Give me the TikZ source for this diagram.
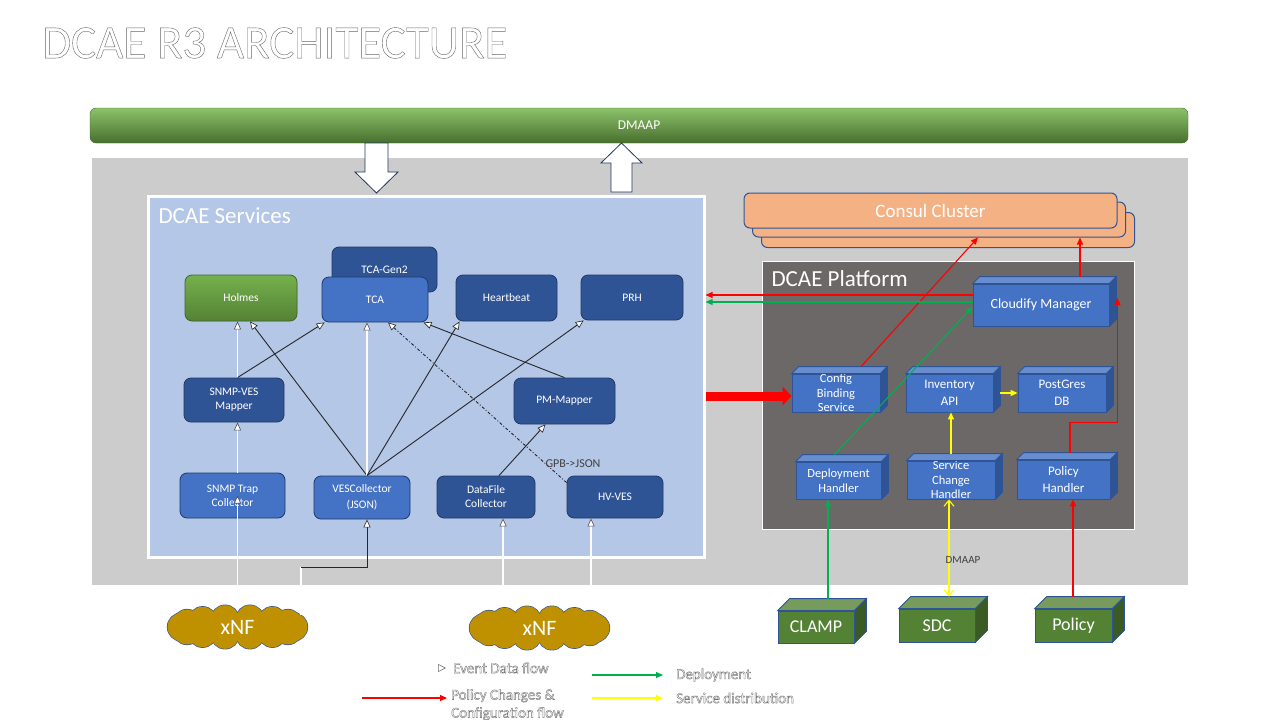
\documentclass[tikz,border=0pt]{standalone}
\usepackage{fontspec}
\setmainfont{Carlito}
\usetikzlibrary{arrows.meta,calc}

\definecolor{dkblue}{RGB}{47,84,150}
\definecolor{mdblue}{RGB}{68,114,196}
\definecolor{edgeblue}{RGB}{32,56,100}
\definecolor{svcbg}{RGB}{180,199,231}
\definecolor{areagray}{RGB}{204,204,204}
\definecolor{platgray}{RGB}{108,104,104}
\definecolor{leafgreen}{RGB}{84,130,53}
\definecolor{lightgreen}{RGB}{140,194,106}
\definecolor{holmestop}{RGB}{118,176,76}
\definecolor{peach}{RGB}{244,177,131}
\definecolor{xnfgold}{RGB}{191,144,0}
\definecolor{depgreen}{RGB}{0,176,80}
\definecolor{distyellow}{RGB}{255,255,0}

% hollow letters (stroke only)
\newcommand{\outlined}[1]{\special{pdf:literal direct 1 Tr 0.4 w}#1\special{pdf:literal direct 0 Tr}}
% top and right face of a box: node, depth, top colour, side colour
\newcommand{\cubefaces}[4]{%
  \filldraw[fill=#3, draw=dkblue, line width=0.8pt] (#1.north west) -- ++(#2,-#2) -- ($(#1.north east)+(#2,-#2)$) -- (#1.north east) -- cycle;
  \filldraw[fill=#4, draw=dkblue, line width=0.8pt] (#1.north east) -- ++(#2,-#2) -- ($(#1.south east)+(#2,-#2)$) -- (#1.south east) -- cycle;}

\begin{document}
\begin{tikzpicture}[x=1pt,y=-1pt,
	svcbox/.style={rounded corners=7pt, fill=dkblue, draw=edgeblue, line width=0.8pt, text=white, align=center, inner sep=0pt, minimum width=100pt, minimum height=45pt, font=\fontsize{11.5}{14}\selectfont},
	holmesbox/.style={svcbox, top color=holmestop, bottom color=leafgreen, draw=leafgreen!80!black},
	cube/.style={fill=mdblue, draw=dkblue, line width=0.8pt, text=white, align=center, inner sep=0pt, font=\fontsize{13}{16.5}\selectfont},
	greencube/.style={cube, fill=leafgreen, font=\fontsize{18}{20}\selectfont},
	consulbox/.style={rounded corners=6pt, fill=peach, draw=dkblue, line width=1pt, minimum width=373pt, minimum height=35pt},
	xnf/.style={text=white, inner sep=0pt, minimum width=136pt, minimum height=40pt, font=\fontsize{22}{24}\selectfont},
	blockarrow/.style={fill=white, draw=edgeblue, line width=0.8pt},
	evt/.style={white, line width=1.2pt, -{Triangle[length=8pt, width=7pt, fill=white, color=black!70, line width=0.6pt]}},
	evtb/.style={black!85, line width=0.9pt, -{Triangle[length=8pt, width=7pt, fill=white, line width=0.6pt]}},
	cfg/.style={draw=red, line width=1.1pt, -{Triangle[length=7pt, width=6pt, color=red, fill=red]}},
	dep/.style={draw=depgreen, line width=1.1pt, -{Triangle[length=7pt, width=6pt, color=depgreen, fill=depgreen]}},
	dist/.style={draw=distyellow, line width=1.1pt, -{Triangle[length=7pt, width=6pt, color=distyellow, fill=distyellow]}},
	legend/.style={text=black!55, inner sep=2pt, font=\fontsize{15}{18}\selectfont}]
	\useasboundingbox (0,0) rectangle (1280,720);

	\node[anchor=west, text=black!60, inner sep=0pt, font=\fontsize{47}{50}\selectfont] (title) at (42,43) {\outlined{DCAE R3 ARCHITECTURE}};

	\fill[areagray] (92,158) rectangle (1188,585);
	\node[rounded corners=6pt, top color=lightgreen, bottom color=leafgreen!85!black, draw=leafgreen!80!black, text=white, minimum width=1098pt, minimum height=35pt, font=\fontsize{13.5}{16}\selectfont] (dmaap) at (639,125.5) {DMAAP};
	\draw[blockarrow] (365,143) -- (388,143) -- (388,172) -- (398,172) -- (376.5,193) -- (355,172) -- (365,172) -- cycle;
	\draw[blockarrow] (611,192) -- (632,192) -- (632,163) -- (642,163) -- (621.5,143) -- (601,163) -- (611,163) -- cycle;

	% DCAE services
	\node[fill=svcbg, draw=white, line width=3pt, inner sep=0pt, minimum width=556pt, minimum height=361pt] (svc) at (426,376.5) {};
	\node[anchor=west, text=white, font=\fontsize{23}{26}\selectfont] (svctitle) at (155,216) {DCAE Services};

	\node[svcbox, minimum width=105pt] (tcagen) at (384.5,269.5) {TCA-Gen2};
	\node[holmesbox, minimum width=112pt, minimum height=46pt] (holmes) at (241,298) {Holmes};
	\node[svcbox, fill=mdblue, minimum width=106pt] (tca) at (375,299.5) {TCA};
	\node[svcbox, minimum width=101pt, minimum height=46pt] (hb) at (506.5,298) {Heartbeat};
	\node[svcbox, minimum width=102pt] (prh) at (632,297.5) {PRH};
	\node[svcbox, minimum height=44pt] (snmpmap) at (234,400) {SNMP-VES\\Mapper};
	\node[svcbox, minimum width=101pt, minimum height=46pt] (pmmap) at (564.5,401) {PM-Mapper};
	\node[svcbox, fill=mdblue, minimum width=105pt] (trap) at (232.5,495.5) {SNMP Trap\\Collector};
	\node[svcbox, fill=mdblue, minimum width=96pt, minimum height=43pt, font=\fontsize{11.5}{16}\selectfont] (ves) at (362,497.5) {VESCollector\\(JSON)};
	\node[svcbox, minimum width=98pt, minimum height=42pt] (dfc) at (486,497) {DataFile\\Collector};
	\node[svcbox, minimum width=96pt, minimum height=42pt] (hvves) at (615,497) {HV-VES};

	% DCAE platform
	\node[consulbox] (consul3) at (948,230) {};
	\node[consulbox] (consul2) at (939,219.5) {};
	\node[consulbox, text=white, font=\fontsize{19}{22}\selectfont] (consul) at (930.5,210.5) {Consul Cluster};

	\node[fill=platgray, draw=white, line width=1pt, inner sep=0pt, minimum width=372pt, minimum height=268pt] (plat) at (948,395) {};
	\node[anchor=west, text=white, font=\fontsize{23}{26}\selectfont] (plattitle) at (768,279) {DCAE Platform};

	\node[cube, minimum width=136pt, minimum height=42pt, font=\fontsize{14}{16}\selectfont] (cm) at (1041,305) {Cloudify Manager};
	\cubefaces{cm}{7}{mdblue!80!white}{dkblue}
	\node[cube, minimum width=88pt, minimum height=38pt, font=\fontsize{12.5}{14.5}\selectfont] (cbs) at (836,393) {Config\\Binding\\Service};
	\cubefaces{cbs}{7}{mdblue!80!white}{dkblue}
	\node[cube, minimum width=87pt, minimum height=38pt] (inv) at (949.5,393) {Inventory\\API};
	\cubefaces{inv}{7}{mdblue!80!white}{dkblue}
	\node[cube, minimum width=88pt, minimum height=38pt] (pg) at (1062,393) {PostGres\\DB};
	\cubefaces{pg}{7}{mdblue!80!white}{dkblue}
	\node[cube, minimum width=85pt, minimum height=37pt, font=\fontsize{12.5}{15.5}\selectfont] (dh) at (838.5,480.5) {Deployment\\Handler};
	\cubefaces{dh}{7}{mdblue!80!white}{dkblue}
	\node[cube, minimum width=88pt, minimum height=38pt, font=\fontsize{12.5}{14.5}\selectfont] (sch) at (951,480) {Service\\Change\\Handler};
	\cubefaces{sch}{7}{mdblue!80!white}{dkblue}
	\node[cube, minimum width=93pt, minimum height=39pt] (ph) at (1063.5,479.5) {Policy\\Handler};
	\cubefaces{ph}{7}{mdblue!80!white}{dkblue}

	% xNF clouds: outlined puffs, then filled puffs on top
	\foreach \cx/\cy in {237.5/627, 539.5/628} {
		\foreach \t in {0,25.714,...,359}
			\draw[dkblue, line width=1.3pt] ($(\cx,\cy)+(\t:56 and 8)$) circle (14);
		\foreach \t in {0,25.714,...,359}
			\fill[xnfgold] ($(\cx,\cy)+(\t:56 and 8)$) circle (14);
		\fill[xnfgold] (\cx,\cy) ellipse (56 and 10);
	}
	\node[xnf] (xnfa) at (237.5,627) {xNF};
	\node[xnf] (xnfb) at (539.5,628) {xNF};

	% event data flow
	\coordinate (vesin) at (301,615);
	\coordinate (vesbend) at (301,567);
	\coordinate (dfcin) at (503,606);
	\coordinate (hvin) at (591,609);
	\coordinate (vestop) at ([xshift=5pt]ves.north);

	\draw[evt] ([yshift=3pt]xnfa.north) -- (xnfa.north |- trap.center);
	\draw[evt] (xnfa.north |- trap.north) -- (xnfa.north |- snmpmap.south);
	\draw[evt] (xnfa.north |- snmpmap.north) -- (xnfa.north |- holmes.south);
	\draw[evtb] (xnfa.north |- snmpmap.north) -- ([xshift=3pt]tca.south west);
	\draw[white, line width=1.2pt] (vesin) -- (vesbend);
	\draw[evtb] (vesbend) -| ([xshift=5pt]ves.south);
	\draw[evtb] (vestop) -- ([xshift=9pt]holmes.south);
	\draw[evt] (vestop) -- (vestop |- tca.south);
	\draw[evtb] (vestop) -- ([xshift=4pt]hb.south west);
	\draw[evtb] (vestop) -- ([xshift=3pt]prh.south west);
	\draw[evtb] (pmmap.north) -- ([xshift=-5pt]tca.south east);
	\draw[evtb, dash dot] ([yshift=-7pt]hvves.north west) -- ([xshift=13pt]tca.south);
	\draw[evtb] ([xshift=13pt]dfc.north) -- ([xshift=-19pt]pmmap.south);
	\draw[evt] (dfcin) -- (dfcin |- dfc.south);
	\draw[evt] (hvin) -- (hvin |- hvves.south);
	\node[text=black!75, font=\fontsize{12}{14}\selectfont] (gpb) at (573,464) {GPB-{}>JSON};

	% platform flows
	\draw[cfg] ([xshift=25pt,yshift=7pt]cbs.north) -- ([xshift=226pt]consul2.south west);
	\draw[cfg] ([xshift=39pt,yshift=7pt]cm.north) coordinate (cmtop) -- (cmtop |- consul2.south);
	\draw[cfg] ([yshift=10pt]cm.west) coordinate (cmred) -- (cmred -| svc.east);
	\draw[dep] ([yshift=3pt]cm.west) coordinate (cmgreen) -- (cmgreen -| svc.east);
	\draw[dep] ([xshift=-4pt,yshift=7pt]dh.north) -- ([yshift=-2pt]cm.west);
	\draw[draw=red, line width=9pt, -{Triangle[length=9pt, width=18pt, color=red, fill=red]}] ([yshift=-3pt]cbs.west -| svc.east) -- ([yshift=-3pt]cbs.west);
	\draw[dist] ([xshift=7pt]inv.east) -- (pg.west);
	\draw[dist] ([yshift=7pt]sch.north) coordinate (schtop) -- (schtop |- inv.south);
	\draw[cfg] ([xshift=6.5pt,yshift=7pt]ph.north) -- ++(0,-30) -| ([xshift=8pt,yshift=7pt]cm.east);

	% outside systems
	\node[greencube, minimum width=76pt, minimum height=32pt] (clamp) at (816,627) {CLAMP};
	\cubefaces{clamp}{12}{leafgreen!80!white}{leafgreen!70!black}
	\node[greencube, minimum width=76pt, minimum height=33pt] (sdc) at (937,625.5) {SDC};
	\cubefaces{sdc}{12}{leafgreen!80!white}{leafgreen!70!black}
	\node[greencube, minimum width=77pt, minimum height=33pt] (policy) at (1073.5,625.5) {Policy};
	\cubefaces{policy}{12}{leafgreen!80!white}{leafgreen!70!black}

	\draw[dep] ([xshift=12pt,yshift=12pt]clamp.north) coordinate (clamptop) -- (clamptop |- dh.south);
	\draw[dist, {Straight Barb[length=6pt, width=10pt, color=distyellow]}-{Straight Barb[length=6pt, width=10pt, color=distyellow]}] ([xshift=12pt,yshift=12pt]sdc.north) coordinate (sdctop) -- (sdctop |- sch.south);
	\draw[cfg] ([xshift=-0.5pt,yshift=12pt]policy.north) coordinate (poltop) -- (poltop |- ph.south);
	\node[text=black!75, font=\fontsize{11}{13}\selectfont] (dmaaplbl) at (963,560) {DMAAP};

	% legend
	\coordinate (lgevta) at (365,668);
	\coordinate (lgevtb) at (446,668);
	\draw[white, line width=1pt, -{Triangle[open, length=8pt, width=8pt, color=black!55, line width=0.6pt]}] (lgevta) -- (lgevtb);
	\draw[cfg] (362,698) coordinate (lgcfga) -- (447,698) coordinate (lgcfgb);
	\draw[dep] (592,675) coordinate (lgdepa) -- (663,675) coordinate (lgdepb);
	\draw[dist] (592,698) coordinate (lgdista) -- (663,698) coordinate (lgdistb);
	\node[legend, anchor=west] (lgevt) at (451,668) {\outlined{Event Data flow}};
	\node[legend, anchor=north west, align=left] (lgcfg) at (449,687) {\outlined{Policy Changes \&}\\\outlined{Configuration flow}};
	\node[legend, anchor=west] (lgdep) at (674,675) {\outlined{Deployment}};
	\node[legend, anchor=west] (lgdist) at (674,698) {\outlined{Service distribution}};
\end{tikzpicture}
\end{document}
